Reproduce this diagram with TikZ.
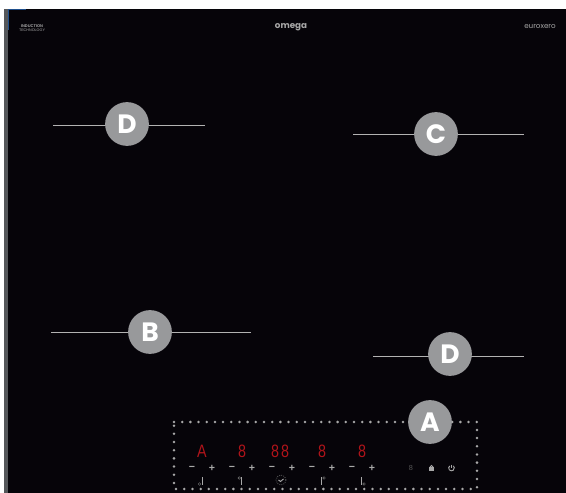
\documentclass[tikz,border=0pt]{standalone}
\usepackage{fontspec}
\setmainfont{Liberation Sans}
\newfontfamily\logofont{Poppins}
\usepackage{xcolor}
\definecolor{hob}{HTML}{060409}
\definecolor{strip}{HTML}{55575A}
\definecolor{edgeblue}{HTML}{1F4F8C}
\definecolor{badgegrey}{HTML}{98999B}
\definecolor{seg}{HTML}{B0141A}
\definecolor{touch}{HTML}{A8A8A8}
\usetikzlibrary{calc}
\tikzset{
  badge/.style    = {circle, fill=badgegrey, draw=none, minimum size=33pt, inner sep=0pt,
                     text=white, font=\logofont\bfseries\fontsize{20}{20}\selectfont},
  leader/.style   = {draw=white!70!black, line width=0.45pt},
  panel/.style    = {draw=touch, line width=2.1pt, line cap=round,
                     dash pattern=on 0pt off 6.17pt},
  digit/.style    = {text=seg, font=\fontsize{13.5}{14}\selectfont, inner sep=0pt,
                     xscale=0.8},
  pm/.style       = {text=touch, font=\bfseries\fontsize{8}{8}\selectfont, inner sep=0pt},
  iconbar/.style  = {draw=touch, line width=1.1pt},
  icondot/.style  = {circle, draw=touch!70!black, line width=0.3pt, minimum size=2pt, inner sep=0pt},
  logo/.style     = {text=touch, inner sep=0pt},
}
\begin{document}
\begin{tikzpicture}[x=0.0265cm,y=-0.0265cm]
\useasboundingbox (0,0) rectangle (566,493);
\fill[white] (0,0) rectangle (566,493);
\fill[strip] (4,9) rectangle (8,493);
\fill[hob] (8,9) rectangle (566,493);
\draw[edgeblue, line width=0.7pt] (8,30) -- (8,9.5) -- (26,9.5);

% logos
\node[logo, font=\bfseries\fontsize{3}{3}\selectfont]   (brand1) at (32,26)  {INDUCTION};
\node[logo, font=\fontsize{2.8}{3}\selectfont]          (brand2) at (32,30)  {TECHNOLOGY};
\node[logo, font=\logofont\bfseries\fontsize{6.6}{8}\selectfont] (omega)  at (291,27) {omega};
\node[logo, font=\logofont\fontsize{5.4}{6}\selectfont] (euro)   at (540,26.5) {euroxero};

% zones
\foreach \name/\xa/\xb/\yy/\xc/\yc/\lab in {
    dl/53/205/125/127/124/D, cr/353/524/134/436/134/C,
    bl/51/251/332/150/332/B, dr/373/524/356/450/354/D}{
  \coordinate (\name l) at (\xa,\yy);
  \coordinate (\name r) at (\xb,\yy);
  \draw[leader] (\name l) -- (\name r);
  \node[badge] (\name) at (\xc,\yc) {\lab};
}

% control panel
\draw[panel] (174,422) -- (477,422) -- (477,489) -- (174,489) -- cycle;
\node[badge] (a) at (430,422) {A};

\node[digit] (d1) at (202,451.5) {A};
\node[digit] (d2) at (242,451.5) {8};
\node[digit] (d3) at (275,451.5) {8};
\node[digit] (d4) at (285,451.5) {8};
\node[digit] (d5) at (322,451.5) {8};
\node[digit] (d6) at (362,451.5) {8};

\foreach \i/\xx in {1/192,2/232,3/272,4/312,5/352}{
  \node[pm] (m\i) at (\xx,468) {\textminus};
  \node[pm] (p\i) at ($(m\i)+(20,0)$) {+};
}

\node[text=touch!50!black, font=\fontsize{5.5}{6}\selectfont, inner sep=0pt] (boost) at (411,468) {8};
% lock
\fill[touch] (429,467) rectangle (434,471);
\draw[touch, line width=0.7pt] (430,467) arc (180:360:1.5);
% power
\draw[touch, line width=0.7pt] (449.7,465.9) arc (230:-50:2.8);
\draw[touch, line width=0.7pt] (451.5,464.5) -- (451.5,468);

% zone keys
\foreach \xx/\dx/\dy/\ya/\yb in {202.5/-3/-1/477/485, 241.7/-2.4/-7/477/485,
    321.7/2.4/-7/477/485, 361.7/2.4/-1/477/485}{
  \draw[iconbar] (\xx,\ya) -- (\xx,\yb);
  \node[icondot] at (\xx+\dx,\yb+\dy) {};
}
% timer key
\draw[touch!60!black, line width=0.6pt, dash pattern=on 0.6pt off 1pt] (281,480) circle (5);
\draw[touch, line width=0.7pt] (278.5,480) -- (280.5,481.5) -- (283.5,479);
\end{tikzpicture}
\end{document}
